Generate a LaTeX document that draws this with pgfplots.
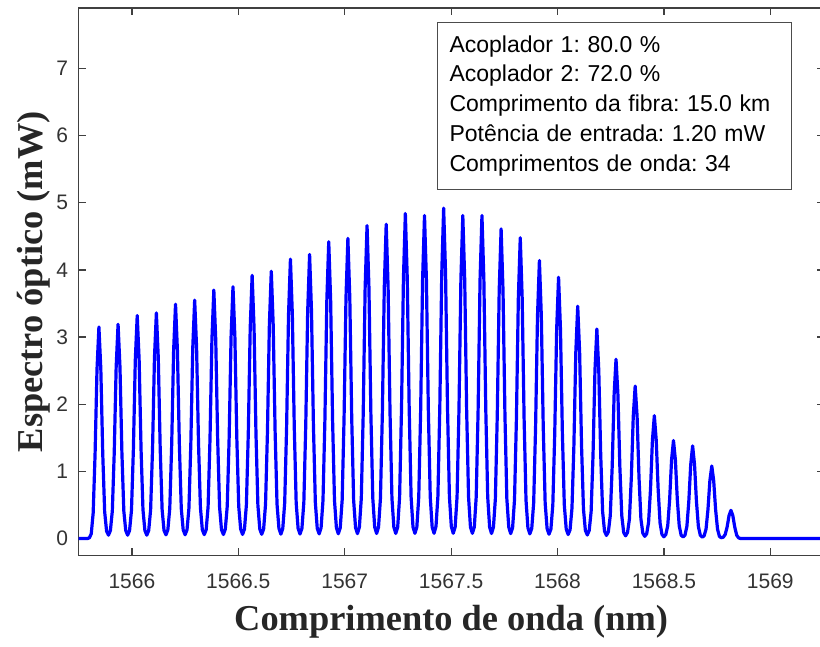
\documentclass[border=0pt]{standalone}
\usepackage{fontspec}
\setmainfont{Liberation Sans}
\newfontfamily\seriffont{Liberation Serif}
\usepackage{pgfplots}
\pgfplotsset{compat=1.18}

\begin{document}
\frenchspacing
\begin{tikzpicture}
\begin{axis}[
  scale only axis,
  width=372.4pt, height=273.65pt,
  xmin=1565.75, xmax=1569.25,
  ymin=-0.25, ymax=7.9,
  xtick={1566,1566.5,1567,1567.5,1568,1568.5,1569},
  xticklabels={1566,1566.5,1567,1567.5,1568,1568.5,1569},
  ytick={0,1,2,3,4,5,6,7},
  yticklabels={0,1,2,3,4,5,6,7},
  tick align=inside,
  major tick length=3.5pt,
  axis line style={black!75, line width=0.6pt},
  tick style={black!75, line width=0.6pt},
  tick label style={font=\fontsize{10.5}{12}\selectfont, text=black!80},
  xticklabel style={yshift=-5.8pt},
  yticklabel style={xshift=-1.8pt},
  xlabel={Comprimento de onda (nm)},
  ylabel={Espectro óptico (mW)},
  label style={font=\seriffont\bfseries\fontsize{18.2}{20}\selectfont, text=black!85},
  xlabel style={at={(axis description cs:0.5,-0.1365)}, anchor=base},
  ylabel style={at={(axis description cs:-0.048,0.5)}, anchor=base},
]
% output spectrum of the comb: 34 lines spaced by 0.09 nm
\addplot[blue, line width=1.6pt, line join=round, mark=none] coordinates {
(1565.75,0) (1565.791,0) (1565.800,0.01) (1565.809,0.07) (1565.818,0.38) (1565.827,1.26) (1565.836,2.52)
(1565.845,3.15) (1565.854,2.52) (1565.863,1.26) (1565.872,0.40) (1565.881,0.11) (1565.890,0.05) (1565.899,0.12) (1565.908,0.41) (1565.917,1.28) (1565.926,2.55)
(1565.935,3.19) (1565.944,2.55) (1565.953,1.28) (1565.962,0.41) (1565.971,0.12) (1565.980,0.05) (1565.989,0.12) (1565.998,0.42) (1566.007,1.33) (1566.016,2.66)
(1566.025,3.32) (1566.034,2.66) (1566.043,1.33) (1566.052,0.43) (1566.061,0.12) (1566.070,0.05) (1566.079,0.12) (1566.088,0.43) (1566.097,1.34) (1566.106,2.69)
(1566.115,3.36) (1566.124,2.69) (1566.133,1.34) (1566.142,0.43) (1566.151,0.12) (1566.160,0.055) (1566.169,0.13) (1566.178,0.45) (1566.187,1.40) (1566.196,2.79)
(1566.205,3.49) (1566.214,2.79) (1566.223,1.40) (1566.232,0.45) (1566.241,0.13) (1566.250,0.056) (1566.259,0.13) (1566.268,0.45) (1566.277,1.42) (1566.286,2.84)
(1566.295,3.55) (1566.304,2.84) (1566.313,1.42) (1566.322,0.46) (1566.331,0.13) (1566.340,0.058) (1566.349,0.13) (1566.358,0.47) (1566.367,1.48) (1566.376,2.96)
(1566.385,3.70) (1566.394,2.96) (1566.403,1.48) (1566.412,0.47) (1566.421,0.13) (1566.430,0.06) (1566.439,0.14) (1566.448,0.48) (1566.457,1.50) (1566.466,3.00)
(1566.475,3.75) (1566.484,3.00) (1566.493,1.50) (1566.502,0.48) (1566.511,0.14) (1566.520,0.061) (1566.529,0.14) (1566.538,0.50) (1566.547,1.57) (1566.556,3.14)
(1566.565,3.92) (1566.574,3.14) (1566.583,1.57) (1566.592,0.50) (1566.601,0.14) (1566.610,0.063) (1566.619,0.14) (1566.628,0.51) (1566.637,1.59) (1566.646,3.18)
(1566.655,3.98) (1566.664,3.18) (1566.673,1.59) (1566.682,0.51) (1566.691,0.15) (1566.700,0.065) (1566.709,0.15) (1566.718,0.53) (1566.727,1.66) (1566.736,3.33)
(1566.745,4.16) (1566.754,3.33) (1566.763,1.66) (1566.772,0.53) (1566.781,0.15) (1566.790,0.067) (1566.799,0.15) (1566.808,0.54) (1566.817,1.69) (1566.826,3.38)
(1566.835,4.23) (1566.844,3.38) (1566.853,1.69) (1566.862,0.54) (1566.871,0.15) (1566.880,0.069) (1566.889,0.16) (1566.898,0.57) (1566.907,1.77) (1566.916,3.54)
(1566.925,4.42) (1566.934,3.54) (1566.943,1.77) (1566.952,0.57) (1566.961,0.16) (1566.970,0.071) (1566.979,0.16) (1566.988,0.57) (1566.997,1.79) (1567.006,3.58)
(1567.015,4.47) (1567.024,3.58) (1567.033,1.79) (1567.042,0.57) (1567.051,0.16) (1567.060,0.073) (1567.069,0.17) (1567.078,0.60) (1567.087,1.86) (1567.096,3.73)
(1567.105,4.66) (1567.114,3.73) (1567.123,1.86) (1567.132,0.60) (1567.141,0.17) (1567.150,0.075) (1567.159,0.17) (1567.168,0.60) (1567.177,1.87) (1567.186,3.74)
(1567.195,4.68) (1567.204,3.74) (1567.213,1.87) (1567.222,0.60) (1567.231,0.17) (1567.240,0.076) (1567.249,0.17) (1567.258,0.62) (1567.267,1.94) (1567.276,3.87)
(1567.285,4.84) (1567.294,3.87) (1567.303,1.94) (1567.312,0.62) (1567.321,0.17) (1567.330,0.077) (1567.339,0.17) (1567.348,0.62) (1567.357,1.92) (1567.366,3.85)
(1567.375,4.81) (1567.384,3.85) (1567.393,1.92) (1567.402,0.62) (1567.411,0.17) (1567.420,0.078) (1567.429,0.18) (1567.438,0.63) (1567.447,1.97) (1567.456,3.94)
(1567.465,4.92) (1567.474,3.94) (1567.483,1.97) (1567.492,0.63) (1567.501,0.18) (1567.510,0.078) (1567.519,0.17) (1567.528,0.62) (1567.537,1.92) (1567.546,3.85)
(1567.555,4.81) (1567.564,3.85) (1567.573,1.92) (1567.582,0.62) (1567.591,0.17) (1567.600,0.077) (1567.609,0.17) (1567.618,0.62) (1567.627,1.92) (1567.636,3.85)
(1567.645,4.81) (1567.654,3.85) (1567.663,1.92) (1567.672,0.62) (1567.681,0.17) (1567.690,0.075) (1567.699,0.17) (1567.708,0.59) (1567.717,1.84) (1567.726,3.69)
(1567.735,4.61) (1567.744,3.69) (1567.753,1.84) (1567.762,0.59) (1567.771,0.17) (1567.780,0.073) (1567.789,0.16) (1567.798,0.58) (1567.807,1.79) (1567.816,3.58)
(1567.825,4.48) (1567.834,3.58) (1567.843,1.79) (1567.852,0.57) (1567.861,0.16) (1567.870,0.069) (1567.879,0.15) (1567.888,0.53) (1567.897,1.66) (1567.906,3.31)
(1567.915,4.14) (1567.924,3.31) (1567.933,1.66) (1567.942,0.53) (1567.951,0.15) (1567.960,0.064) (1567.969,0.14) (1567.978,0.50) (1567.987,1.56) (1567.996,3.11)
(1568.005,3.89) (1568.014,3.11) (1568.023,1.56) (1568.032,0.50) (1568.041,0.14) (1568.050,0.059) (1568.059,0.13) (1568.068,0.45) (1568.077,1.38) (1568.086,2.77)
(1568.095,3.46) (1568.104,2.77) (1568.113,1.38) (1568.122,0.44) (1568.131,0.12) (1568.140,0.053) (1568.149,0.12) (1568.158,0.40) (1568.167,1.25) (1568.176,2.50)
(1568.185,3.12) (1568.194,2.50) (1568.203,1.25) (1568.212,0.40) (1568.221,0.11) (1568.230,0.046) (1568.239,0.10) (1568.248,0.34) (1568.257,1.07) (1568.266,2.14)
(1568.275,2.67) (1568.284,2.14) (1568.293,1.07) (1568.302,0.34) (1568.311,0.09) (1568.320,0.040) (1568.329,0.09) (1568.338,0.29) (1568.347,0.91) (1568.356,1.82)
(1568.365,2.27) (1568.374,1.82) (1568.383,0.91) (1568.392,0.29) (1568.401,0.08) (1568.410,0.033) (1568.419,0.07) (1568.428,0.24) (1568.437,0.73) (1568.446,1.46)
(1568.455,1.83) (1568.464,1.46) (1568.473,0.73) (1568.482,0.23) (1568.491,0.06) (1568.500,0.026) (1568.509,0.06) (1568.518,0.19) (1568.527,0.58) (1568.536,1.17)
(1568.545,1.46) (1568.554,1.17) (1568.563,0.58) (1568.572,0.19) (1568.581,0.05) (1568.590,0.023) (1568.599,0.05) (1568.608,0.18) (1568.617,0.55) (1568.626,1.10)
(1568.635,1.38) (1568.644,1.10) (1568.653,0.55) (1568.662,0.18) (1568.671,0.05) (1568.680,0.020) (1568.689,0.04) (1568.698,0.14) (1568.707,0.43) (1568.716,0.86)
(1568.725,1.08) (1568.734,0.86) (1568.743,0.43) (1568.752,0.14) (1568.761,0.03) (1568.770,0.012) (1568.779,0.02) (1568.788,0.06) (1568.797,0.17) (1568.806,0.34)
(1568.815,0.42) (1568.824,0.34) (1568.833,0.17) (1568.842,0.05) (1568.851,0.01) (1568.860,0) (1569.25,0)
};
% simulation parameters
\node[draw=black!70, line width=0.6pt, fill=white, anchor=north west, align=left,
      inner xsep=6.15pt, inner ysep=6.5pt, text width=165pt,
      font=\fontsize{11.5}{14.9}\selectfont]
  at (axis cs:1567.432,7.693)
  {Acoplador 1: 80.0 \%\\
   Acoplador 2: 72.0 \%\\
   Comprimento da fibra: 15.0 km\\
   Potência de entrada: 1.20 mW\\
   Comprimentos de onda: 34};
\end{axis}
% the frame is cut just short of its right edge
\pgfresetboundingbox
\path[use as bounding box]
  ([xshift=-39.35pt,yshift=-45.35pt]current axis.south west)
  rectangle ([xshift=370.65pt,yshift=4pt]current axis.north west);
\end{tikzpicture}
\end{document}
